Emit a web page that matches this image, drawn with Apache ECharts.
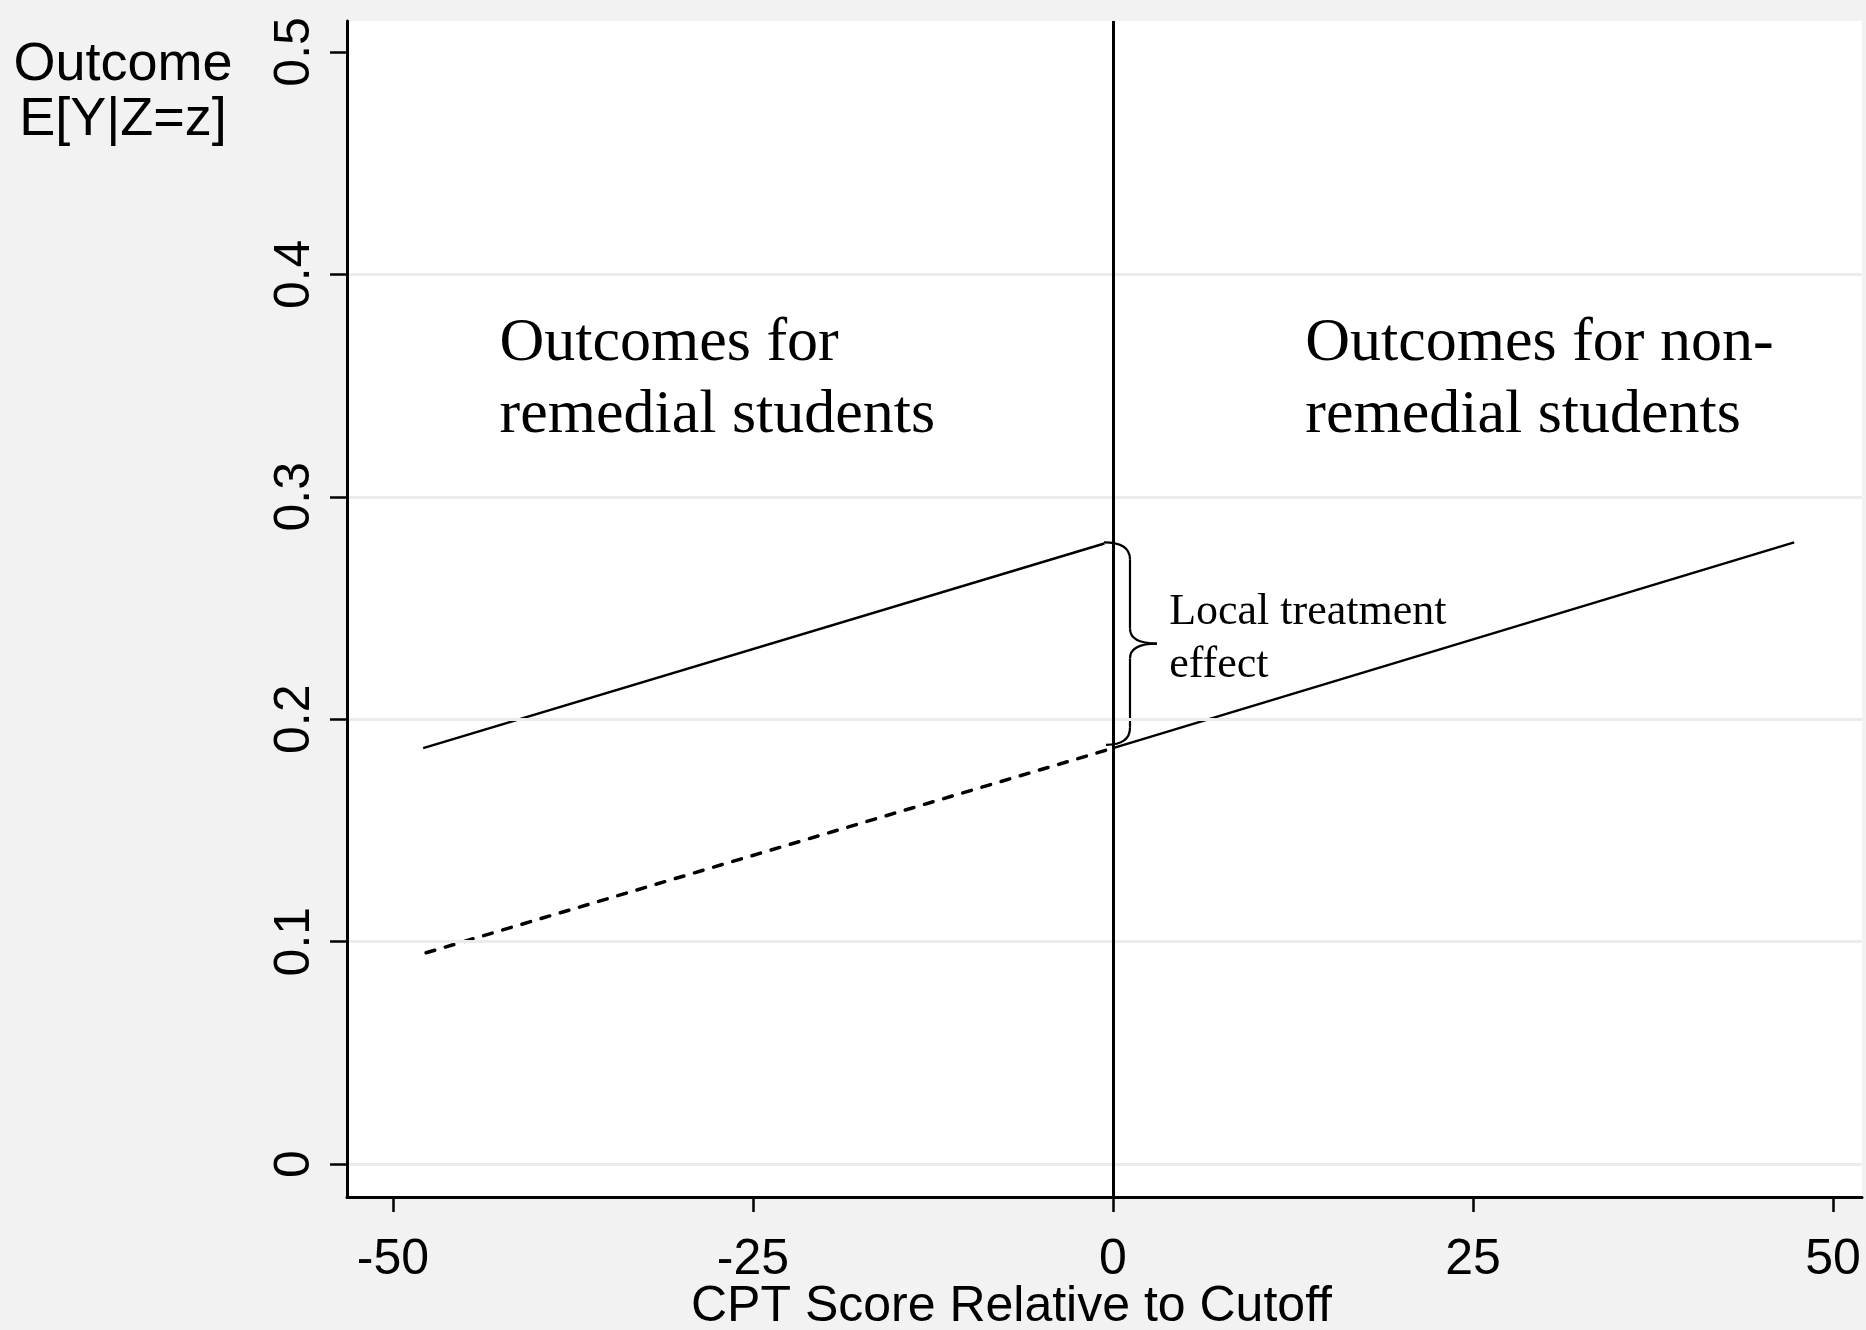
<!DOCTYPE html>
<html>
<head>
<meta charset="utf-8">
<script src="https://cdn.jsdelivr.net/npm/echarts@6/dist/echarts.min.js"></script>
<style>
  html, body { margin: 0; padding: 0; background: #f2f2f2; }
  #chart { width: 1866px; height: 1330px; }
</style>
</head>
<body>
<div id="chart"></div>
<script>
// ---- data ----
const xTicks = [-50, -25, 0, 25, 50];
const yTicks = [0, 0.1, 0.2, 0.3, 0.4, 0.5];
const remedialLine = [[-47.9, 0.187], [-0.6, 0.279]];
const counterfactualLine = [[-47.7, 0.095], [0, 0.187]];
const nonRemedialLine = [[0, 0.187], [47.3, 0.2795]];
const cutoff = 0;
const braceSpan = [[0, 0.2795, 0.1885]];
const annotations = [
  [-42.6, 0.3525, 'Outcomes for\nremedial students', 'big'],
  [13.35, 0.3525, 'Outcomes for non-\nremedial students', 'big'],
  [3.9, 0.2362, 'Local treatment\neffect', 'small']
];
const yTitle = 'Outcome\nE[Y|Z=z]';
const xTitle = 'CPT Score Relative to Cutoff';

const sans = 'Liberation Sans, Arial, sans-serif';
const serif = 'Liberation Serif, Times New Roman, serif';

const chart = echarts.init(document.getElementById('chart'));
chart.setOption({
  animation: false,
  backgroundColor: '#f2f2f2',
  grid: {
    left: 347, right: 4, top: 21, bottom: 133,
    containLabel: false, outerBoundsMode: 'none',
    show: true, backgroundColor: '#ffffff', borderWidth: 0
  },
  graphic: [{
    type: 'text', x: 123, y: 93,
    style: {
      text: yTitle, fill: '#000', fontFamily: sans, fontSize: 54,
      lineHeight: 55, align: 'center', verticalAlign: 'middle'
    }
  }],
  xAxis: {
    type: 'value', min: -53.19, max: 52.01, z: 5,
    name: xTitle, nameLocation: 'middle', nameGap: 85, nameMoveOverlap: false,
    nameTextStyle: { color: '#000', fontFamily: sans, fontSize: 50, padding: [0, 186, 0, 0] },
    axisLine: { show: true, onZero: false, lineStyle: { color: '#000', width: 3 } },
    axisTick: { show: true, length: 15, customValues: xTicks, lineStyle: { color: '#000', width: 2.5 } },
    axisLabel: { customValues: xTicks, margin: 38, color: '#000', fontFamily: sans, fontSize: 50 },
    splitLine: { show: false }
  },
  yAxis: {
    type: 'value', min: -0.0148, max: 0.5139, z: 5,
    axisLine: { show: true, onZero: false, lineStyle: { color: '#000', width: 3 } },
    axisTick: { show: true, length: 17, customValues: yTicks, lineStyle: { color: '#000', width: 2.5 } },
    axisLabel: { customValues: yTicks, rotate: 90, margin: 27, color: '#000', fontFamily: sans, fontSize: 50 },
    splitLine: {
      show: true,
      lineStyle: { width: 3, color: ['#ebebeb', '#ebebeb', '#ebebeb', '#ebebeb', '#ebebeb', 'rgba(0,0,0,0)'] }
    }
  },
  series: [
    {
      name: 'Remedial', type: 'line', data: remedialLine, showSymbol: false,
      lineStyle: { color: '#000', width: 2.5 }, z: 3
    },
    {
      name: 'Counterfactual', type: 'line', data: counterfactualLine, showSymbol: false,
      lineStyle: { color: '#000', width: 3.5, type: [9, 11], cap: 'round' }, z: 3
    },
    {
      name: 'Non-remedial', type: 'line', data: nonRemedialLine, showSymbol: false,
      lineStyle: { color: '#000', width: 2.5 }, z: 3,
      markLine: {
        silent: true, symbol: ['none', 'none'], label: { show: false },
        lineStyle: { color: '#000', width: 3, type: 'solid' },
        data: [{ xAxis: cutoff }]
      }
    },
    {
      name: 'Brace', type: 'custom', data: braceSpan, z: 4, silent: true,
      encode: { x: 0, y: [1, 2] },
      renderItem: function (params, api) {
        const t = api.coord([api.value(0), api.value(1)]);
        const b = api.coord([api.value(0), api.value(2)]);
        const x0 = t[0], ty = t[1], by = b[1], m = (ty + by) / 2;
        const vx = x0 + 17, tipx = x0 + 44;
        const st = { stroke: '#000', lineWidth: 2.2, fill: null };
        return {
          type: 'group',
          children: [
            { type: 'bezierCurve', shape: { x1: x0 - 9, y1: ty, cpx1: vx, cpy1: ty, x2: vx, y2: ty + 17 }, style: st },
            { type: 'line', shape: { x1: vx, y1: ty + 17, x2: vx, y2: m - 15 }, style: st },
            { type: 'bezierCurve', shape: { x1: vx, y1: m - 15, cpx1: vx, cpy1: m, x2: tipx, y2: m }, style: st },
            { type: 'bezierCurve', shape: { x1: tipx, y1: m, cpx1: vx, cpy1: m, x2: vx, y2: m + 15 }, style: st },
            { type: 'line', shape: { x1: vx, y1: m + 15, x2: vx, y2: by - 17 }, style: st },
            { type: 'bezierCurve', shape: { x1: vx, y1: by - 17, cpx1: vx, cpy1: by, x2: x0 - 7, y2: by }, style: st }
          ]
        };
      }
    },
    {
      name: 'Annotations', type: 'custom', data: annotations, z: 4, silent: true,
      encode: { x: 0, y: 1 },
      renderItem: function (params, api) {
        const d = annotations[params.dataIndex];
        const p = api.coord([d[0], d[1]]);
        const big = d[3] === 'big';
        return {
          type: 'text', x: p[0], y: p[1],
          style: {
            text: d[2], fill: '#000', fontFamily: serif,
            fontSize: big ? 62 : 44, lineHeight: big ? 72 : 53,
            align: 'left', verticalAlign: 'middle'
          }
        };
      }
    }
  ]
});
</script>
</body>
</html>
